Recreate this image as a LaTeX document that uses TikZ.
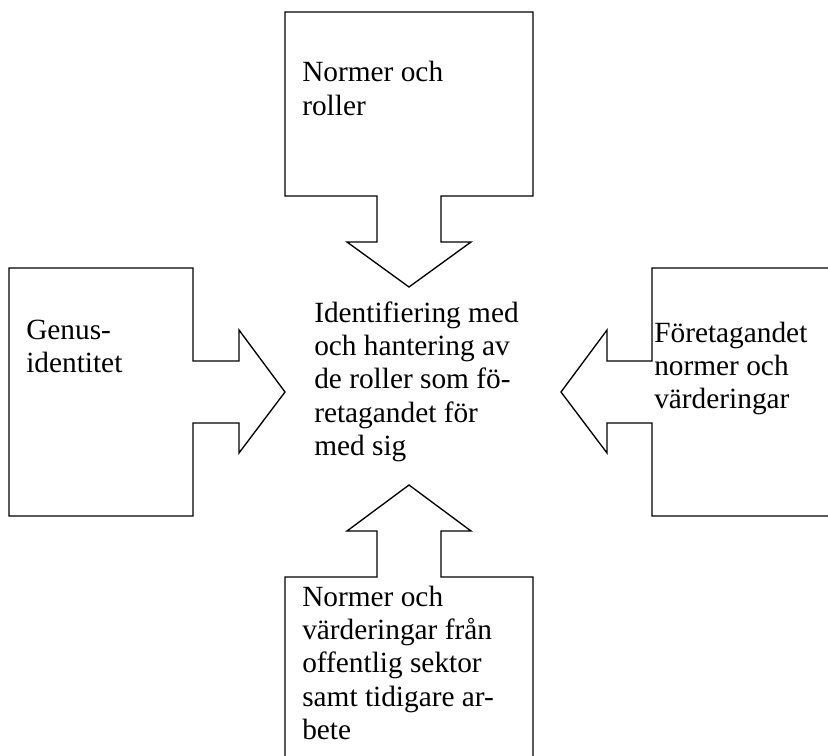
\documentclass[tikz,border=0pt]{standalone}
\usepackage{fontspec}
\setmainfont{Liberation Serif}
\begin{document}
\begin{tikzpicture}[x=0.75pt,y=-0.75pt,
  callout/.style={draw=black,line width=1pt,line join=miter},
  lbl/.style={anchor=base west,inner sep=0pt,font=\fontsize{22}{25}\selectfont}]
\useasboundingbox (0,0) rectangle (828,756);
% top callout
\draw[callout] (285,12) -- (533,12) -- (533,196) -- (441,196) -- (441,242) -- (471,242)
  -- (409,287) -- (347,242) -- (377,242) -- (377,196) -- (285,196) -- cycle;
% left callout
\draw[callout] (9,268) -- (193,268) -- (193,361) -- (239,361) -- (239,330) -- (285,392)
  -- (239,453) -- (239,423) -- (193,423) -- (193,516) -- (9,516) -- cycle;
% right callout
\draw[callout] (840,268) -- (652,268) -- (652,361) -- (607,361) -- (607,330) -- (561,392)
  -- (607,453) -- (607,423) -- (652,423) -- (652,516) -- (840,516);
% bottom callout
\draw[callout] (285,770) -- (285,577) -- (377,577) -- (377,531) -- (347,531) -- (409,485)
  -- (471,531) -- (441,531) -- (441,577) -- (533,577) -- (533,770);
% texts
\node[lbl] (ttop) at (302,82) {\begin{tabular}[t]{@{}l@{}}Normer och\\roller\end{tabular}};
\node[lbl] (tleft) at (26,339) {\begin{tabular}[t]{@{}l@{}}Genus-\\identitet\end{tabular}};
\node[lbl] (tright) at (654,342) {\begin{tabular}[t]{@{}l@{}}Företagandet\\normer och\\värderingar\end{tabular}};
\node[lbl] (tcenter) at (314,322) {\begin{tabular}[t]{@{}l@{}}Identifiering med\\och hantering av\\de roller som fö-\\retagandet för\\med sig\end{tabular}};
\node[lbl] (tbottom) at (302,606) {\begin{tabular}[t]{@{}l@{}}Normer och\\värderingar från\\offentlig sektor\\samt tidigare ar-\\bete\end{tabular}};
\end{tikzpicture}
\end{document}
